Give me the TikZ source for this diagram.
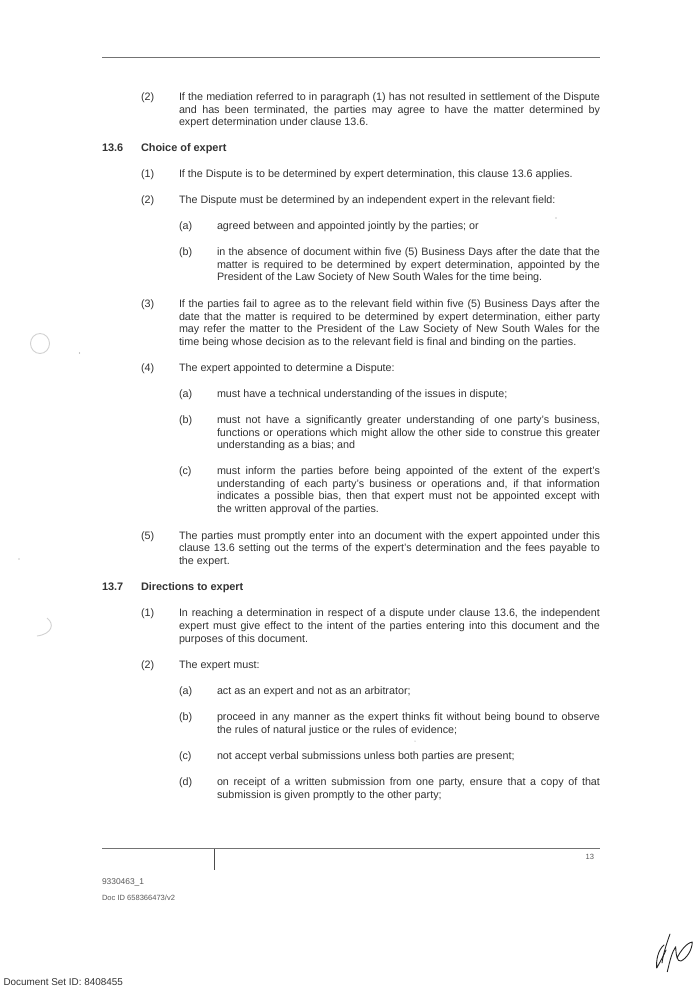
\documentclass[tikz,border=0pt]{standalone}
\usepackage{fontspec}
\setmainfont{Liberation Sans}
\newcounter{tl}
\definecolor{ink}{gray}{0.2}
\tikzset{
  txt/.style={anchor=base west,inner sep=0pt,outer sep=0pt,text=ink,font=\fontsize{10.75}{12}\selectfont},
  hd/.style={txt,font=\fontsize{10.9}{12}\selectfont\bfseries},
  foot/.style={txt,text=black!65,font=\fontsize{7.55}{9}\selectfont},
  rulel/.style={draw=black!55,line width=0.8pt},
  ring/.style={draw=black!18,line width=0.9pt},
  speck/.style={fill=black!45,draw=none},
  sig/.style={draw=black!85,line width=0.9pt,line cap=round,line join=round}
}
\newcommand{\plainl}[3]{\stepcounter{tl}\node[txt] (t\arabic{tl}) at (#1,#2+4) {#3};}
\newcommand{\headl}[3]{\stepcounter{tl}\node[hd] (t\arabic{tl}) at (#1,#2+4) {#3};}
\newcommand{\justl}[3]{\stepcounter{tl}\node[txt] (t\arabic{tl}) at (#1,#2+4) {\makebox[\dimexpr 600pt-#1pt\relax][s]{#3}};}
\begin{document}
\begin{tikzpicture}[x=1pt,y=-1pt]
\useasboundingbox (0,0) rectangle (694,990);
\fill[white] (0,0) rectangle (694,990);
% rules
\coordinate (r1a) at (102,57); \coordinate (r1b) at (600,57);
\draw[rulel] (r1a) -- (r1b);
\coordinate (r2a) at (102,848.5); \coordinate (r2b) at (600,848.5);
\draw[rulel] (r2a) -- (r2b);
\coordinate (r3a) at (214,849); \coordinate (r3b) at (214,870);
\draw[draw=black!70,line width=0.9pt] (r3a) -- (r3b);
% body
\plainl{141}{96}{(2)}
\justl{179}{96}{If the mediation referred to in paragraph (1) has not resulted in settlement of the Dispute}
\justl{179}{109}{and has been terminated, the parties may agree to have the matter determined by}
\plainl{179}{121}{expert determination under clause 13.6.}
\headl{102}{147}{13.6}
\headl{141}{147}{Choice of expert}
\plainl{141}{173}{(1)}
\plainl{179}{173}{If the Dispute is to be determined by expert determination, this clause 13.6 applies.}
\plainl{141}{199}{(2)}
\plainl{179}{199}{The Dispute must be determined by an independent expert in the relevant field:}
\plainl{179}{225}{(a)}
\plainl{217}{225}{agreed between and appointed jointly by the parties; or}
\plainl{179}{251}{(b)}
\justl{217}{251}{in the absence of document within five (5) Business Days after the date that the}
\justl{217}{264}{matter is required to be determined by expert determination, appointed by the}
\plainl{217}{276}{President of the Law Society of New South Wales for the time being.}
\plainl{141}{303}{(3)}
\justl{179}{303}{If the parties fail to agree as to the relevant field within five (5) Business Days after the}
\justl{179}{316}{date that the matter is required to be determined by expert determination, either party}
\justl{179}{328}{may refer the matter to the President of the Law Society of New South Wales for the}
\plainl{179}{341}{time being whose decision as to the relevant field is final and binding on the parties.}
\plainl{141}{367}{(4)}
\plainl{179}{367}{The expert appointed to determine a Dispute:}
\plainl{179}{393}{(a)}
\plainl{217}{393}{must have a technical understanding of the issues in dispute;}
\plainl{179}{419}{(b)}
\justl{217}{419}{must not have a significantly greater understanding of one party's business,}
\justl{217}{432}{functions or operations which might allow the other side to construe this greater}
\plainl{217}{444}{understanding as a bias; and}
\plainl{179}{470}{(c)}
\justl{217}{470}{must inform the parties before being appointed of the extent of the expert's}
\justl{217}{483}{understanding of each party's business or operations and, if that information}
\justl{217}{495}{indicates a possible bias, then that expert must not be appointed except with}
\plainl{217}{508}{the written approval of the parties.}
\plainl{141}{535}{(5)}
\justl{179}{535}{The parties must promptly enter into an document with the expert appointed under this}
\justl{179}{547}{clause 13.6 setting out the terms of the expert's determination and the fees payable to}
\plainl{179}{560}{the expert.}
\headl{102}{586}{13.7}
\headl{141}{586}{Directions to expert}
\plainl{141}{612}{(1)}
\justl{179}{612}{In reaching a determination in respect of a dispute under clause 13.6, the independent}
\justl{179}{625}{expert must give effect to the intent of the parties entering into this document and the}
\plainl{179}{638}{purposes of this document.}
\plainl{141}{664}{(2)}
\plainl{179}{664}{The expert must:}
\plainl{179}{690}{(a)}
\plainl{217}{690}{act as an expert and not as an arbitrator;}
\plainl{179}{716}{(b)}
\justl{217}{716}{proceed in any manner as the expert thinks fit without being bound to observe}
\plainl{217}{729}{the rules of natural justice or the rules of evidence;}
\plainl{179}{755}{(c)}
\plainl{217}{755}{not accept verbal submissions unless both parties are present;}
\plainl{179}{781}{(d)}
\justl{217}{781}{on receipt of a written submission from one party, ensure that a copy of that}
\plainl{217}{794}{submission is given promptly to the other party;}
% footer
\node[foot,anchor=base east] (pg) at (594,859) {13};
\node[foot,font=\fontsize{8.4}{10}\selectfont] (d1) at (102,884) {9330463\_1};
\node[foot] (d2) at (102,900) {Doc ID 658366473/v2};
\node[txt,text=black!80,font=\fontsize{9.9}{11}\selectfont] (d3) at (3.5,985.5) {Document Set ID: 8408455};
% punch-hole ghosts
\draw[ring] (40,343.5) ellipse (9.5 and 10);
\draw[ring] (47,618) .. controls (55,624) and (52,634) .. (37,636);
\fill[speck] (79.5,353) circle (0.7);
\fill[speck] (19,559) circle (0.6);
\fill[speck] (556,218) circle (0.6);
\fill[speck] (415,741) circle (0.5);
% signature
\draw[sig] (670,934) .. controls (666,945) and (663,955) .. (662,963);
\draw[sig] (664,945) .. controls (658,950) and (656,960) .. (656.7,968) .. controls (660,962) and (664,955) .. (666,950);
\draw[sig] (667.3,971.7) .. controls (670,960) and (672,952) .. (675.7,946.7) .. controls (676,955) and (677,962) .. (681,961) .. controls (687,958) and (692,950) .. (692.3,942) .. controls (686,943) and (680,952) .. (677,958);
\end{tikzpicture}
\end{document}
